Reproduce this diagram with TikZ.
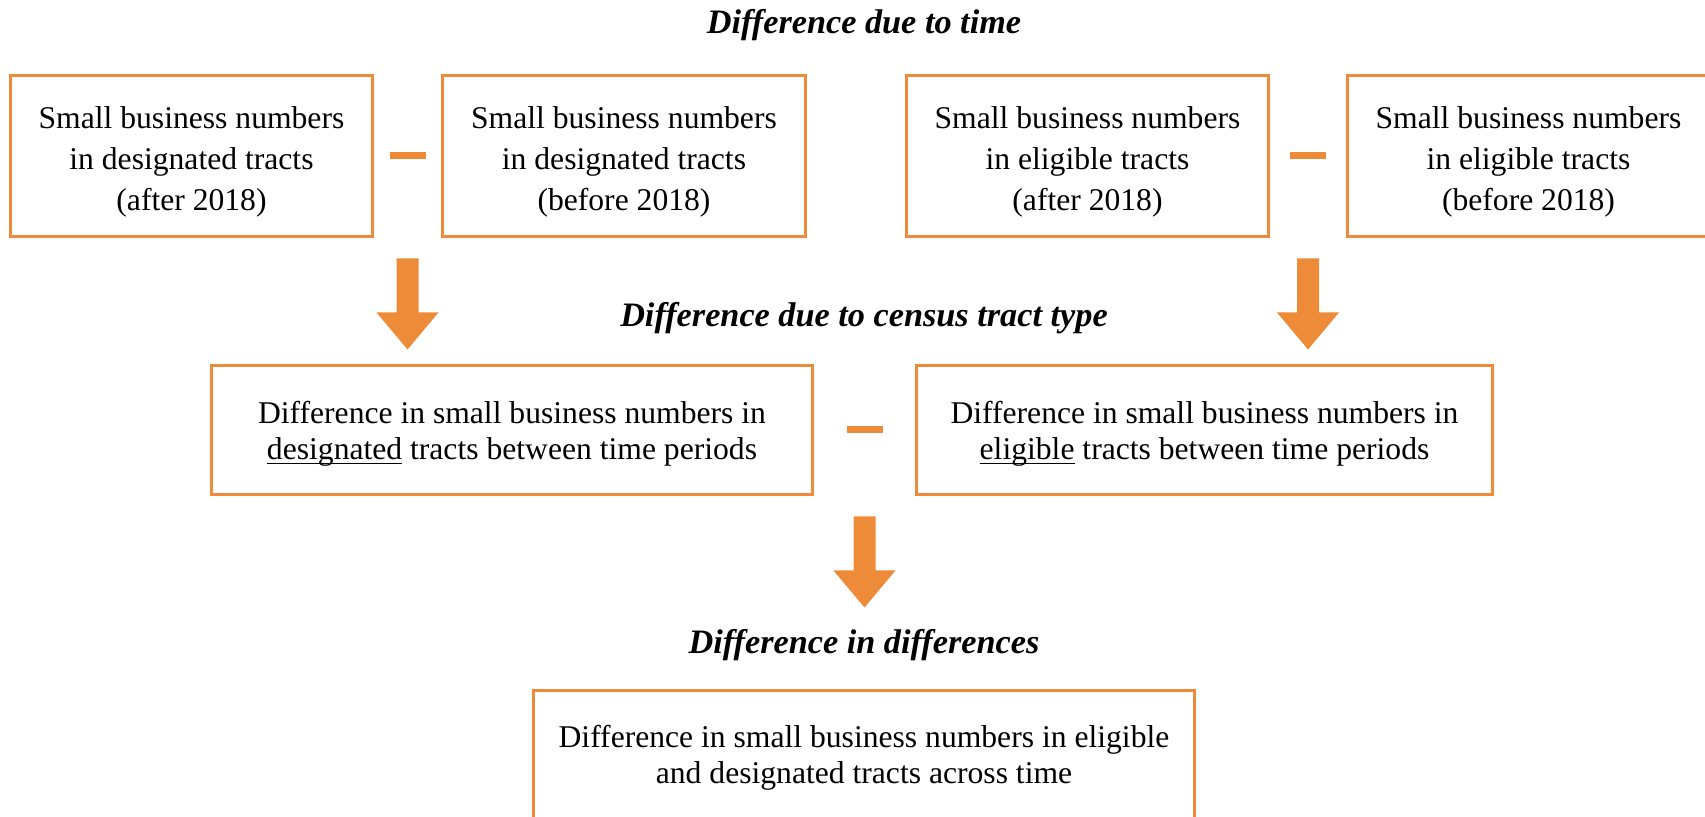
\documentclass[tikz,border=0pt]{standalone}
\usepackage{fontspec}
\setmainfont{Liberation Serif}
\usetikzlibrary{calc}
\definecolor{tractorange}{RGB}{238,139,56}
% underline sitting just under the baseline
\newcommand{\tractul}[1]{\setbox0\hbox{#1}\rlap{\rule[-3pt]{\wd0}{0.9pt}}\box0\relax}
% filled block arrow pointing down, top of the shaft at #1
\newcommand{\blockdown}[1]{\fill[tractorange, shift={#1}] (-11,0) -- (11,0) -- (11,54) -- (31,54) -- (0,91) -- (-31,54) -- (-11,54) -- cycle;}
% short thick minus sign centred at #1
\newcommand{\minusat}[1]{\draw[tractorange, line width=1.4mm] ($#1+(-18,0)$) -- ($#1+(18,0)$);}

\begin{document}
\begin{tikzpicture}[x=0.02cm, y=-0.02cm,
		tbox/.style={draw=tractorange, line width=0.06cm, inner sep=0pt},
		tall/.style={align=center, font=\fontsize{18}{23.3}\selectfont},
		wide/.style={align=center, font=\fontsize{18}{20.4}\selectfont},
		ttitle/.style={font=\fontsize{19.5}{23}\selectfont\bfseries\itshape}]
			%%%%% FRAME %%%%%
			\useasboundingbox (0,0) rectangle (1705,817);
			\clip (0,0) rectangle (1705,817);
			
			%%%%% TOP ROW %%%%%
			\node[ttitle] (t1) at (864, 25) {Difference due to time};
			
			\node[tbox, minimum width=7.26cm, minimum height=3.24cm] (b1) at (191.5, 156) {};
			\node[tbox, minimum width=7.28cm, minimum height=3.24cm] (b2) at (624, 156) {};
			\node[tbox, minimum width=7.26cm, minimum height=3.24cm] (b3) at (1087.5, 156) {};
			\node[tbox, minimum width=7.26cm, minimum height=3.24cm] (b4) at (1528.5, 156) {};
			
			\node[tall] (b1t) at ($(b1)+(0,5.5)$) {Small business numbers\\in designated tracts\\(after 2018)};
			\node[tall] (b2t) at ($(b2)+(0,5.5)$) {Small business numbers\\in designated tracts\\(before 2018)};
			\node[tall] (b3t) at ($(b3)+(0,5.5)$) {Small business numbers\\in eligible tracts\\(after 2018)};
			\node[tall] (b4t) at ($(b4)+(0,5.5)$) {Small business numbers\\in eligible tracts\\(before 2018)};
			
			\minusat{($(b1.east)!0.5!(b2.west)$)}
			\minusat{($(b3.east)!0.5!(b4.west)$)}
			
			\coordinate (a1) at ($($(b1.south east)!0.5!(b2.south west)$)+(0,20)$);
			\coordinate (a2) at ($($(b3.south east)!0.5!(b4.south west)$)+(0,20)$);
			\blockdown{(a1)}
			\blockdown{(a2)}
			
			%%%%% MIDDLE ROW %%%%%
			\node[ttitle] (t2) at (864, 318) {Difference due to census tract type};
			
			\node[tbox, minimum width=12.04cm, minimum height=2.6cm] (m1) at (512, 430) {};
			\node[tbox, minimum width=11.54cm, minimum height=2.6cm] (m2) at (1204.5, 430) {};
			\node[wide] (m1t) at ($(m1)+(0,3.5)$) {Difference in small business numbers in\\\tractul{designated} tracts between time periods};
			\node[wide] (m2t) at ($(m2)+(0,3.5)$) {Difference in small business numbers in\\\tractul{eligible} tracts between time periods};
			
			\minusat{($(m1.east)!0.5!(m2.west)$)}
			
			\coordinate (a3) at ($($(m1.south east)!0.5!(m2.south west)$)+(0,20)$);
			\blockdown{(a3)}
			
			%%%%% BOTTOM ROW %%%%%
			\node[ttitle] (t3) at (864, 645) {Difference in differences};
			
			\node[tbox, minimum width=13.24cm, minimum height=2.6cm] (d) at (864, 755) {};
			\node[wide] (dt) at ($(d)+(0,3)$) {Difference in small business numbers in eligible\\and designated tracts across time};
		\end{tikzpicture}
\end{document}
